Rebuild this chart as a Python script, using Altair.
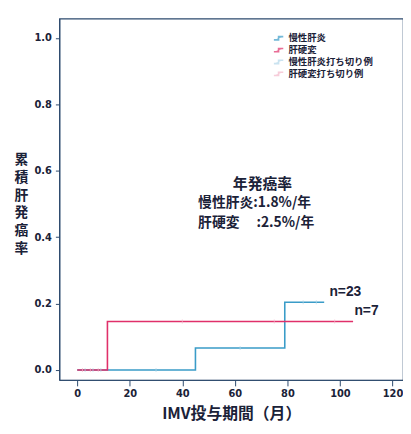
import altair as alt
import pandas as pd

# ---- data ----
hep_x = [0, 45, 79, 94]
hep_y = [0.0, 0.066, 0.204, 0.204]
cir_x = [0, 11.5, 105]
cir_y = [0.0, 0.146, 0.146]

hep_cens_x = [3, 6, 9, 30, 62, 86, 91]
hep_cens_y = [0.0, 0.0, 0.0, 0.0, 0.066, 0.204, 0.204]
cir_cens_x = [2, 5, 8, 40, 75, 98]
cir_cens_y = [0.0, 0.0, 0.0, 0.146, 0.146, 0.146]

series = ["慢性肝炎", "肝硬変", "慢性肝炎打ち切り例", "肝硬変打ち切り例"]
colors = ["#3a9cc8", "#e0306a", "#b5d8ea", "#f4b8cb"]

n_labels = ["n=23", "n=7"]
n_x = [96, 105.5]
n_y = [0.235, 0.176]

ann_title = ["年発癌率"]
ann_lines = ["慢性肝炎:1.8%/年", "肝硬変　 :2.5%/年"]

x_ticks = [0, 20, 40, 60, 80, 100, 120]
y_ticks = [0.0, 0.2, 0.4, 0.6, 0.8, 1.0]

# ---- tables ----
lines = pd.concat([
    pd.DataFrame({"x": hep_x, "y": hep_y, "s": series[0]}),
    pd.DataFrame({"x": cir_x, "y": cir_y, "s": series[1]}),
])
cens = pd.concat([
    pd.DataFrame({"x": hep_cens_x, "y": hep_cens_y, "s": series[2]}),
    pd.DataFrame({"x": cir_cens_x, "y": cir_cens_y, "s": series[3]}),
])
ndf = pd.DataFrame({"x": n_x, "y": n_y, "t": n_labels})
ann_t = pd.DataFrame({"x": [70.5], "y": [0.56], "t": ann_title})
ann_l = pd.DataFrame({"x": [46.0, 46.0], "y": [0.502, 0.443], "t": ann_lines})

FONT = "Noto Sans CJK JP"
INK = "#1b2238"
FRAME = "#2d4a6e"

xsc = alt.Scale(domain=[-6.8, 124], nice=False, zero=False)
ysc = alt.Scale(domain=[-0.03, 1.058], nice=False, zero=False)

color = alt.Color(
    "s:N",
    scale=alt.Scale(domain=series, range=colors),
    legend=alt.Legend(
        title=None,
        orient="none",
        legendX=216,
        legendY=14,
        symbolType="M-1,0.35H0V-0.35H1",
        symbolSize=90,
        symbolStrokeWidth=1.6,
        labelFont=FONT,
        labelFontSize=9.5,
        labelFontWeight="bold",
        labelColor=INK,
        rowPadding=1,
        labelOffset=4,
        padding=0,
    ),
)

xenc = alt.X(
    "x:Q", scale=xsc,
    axis=alt.Axis(
        values=x_ticks, format="d", title="IMV投与期間（月）",
        grid=False, domainColor=FRAME, tickColor=FRAME, tickSize=6,
        labelFont="DejaVu Sans", labelFontSize=10, labelFontWeight="bold",
        labelColor=INK, labelPadding=3,
        titleFont=FONT, titleFontSize=16, titleFontWeight="bold",
        titleColor=INK, titlePadding=7,
    ),
)
yenc = alt.Y(
    "y:Q", scale=ysc,
    axis=alt.Axis(
        values=y_ticks, format=".1f",
        title=["累", "積", "肝", "発", "癌", "率"],
        titleAngle=0, titleAlign="center", titleBaseline="top",
        titleX=-39, titleY=136, titleLineHeight=18,
        titleFont=FONT, titleFontSize=14, titleFontWeight="bold", titleColor=INK,
        grid=False, domainColor=FRAME, tickColor=FRAME, tickSize=4,
        labelFont="DejaVu Sans", labelFontSize=10, labelFontWeight="bold",
        labelColor=INK, labelPadding=4,
    ),
)

line_layer = alt.Chart(lines).mark_line(interpolate="step-after", strokeWidth=1.6).encode(
    x=xenc, y=yenc, color=color
)
cens_layer = alt.Chart(cens).mark_tick(size=4, thickness=1, orient="vertical").encode(
    x="x:Q", y="y:Q", color=color
)
n_layer = alt.Chart(ndf).mark_text(
    align="left", baseline="middle", font="Liberation Sans", fontSize=14, fontWeight="bold", color=INK
).encode(x="x:Q", y="y:Q", text="t:N")
ann_t_layer = alt.Chart(ann_t).mark_text(
    align="center", baseline="middle", font=FONT, fontSize=15, fontWeight="bold", color=INK
).encode(x="x:Q", y="y:Q", text="t:N")
ann_l_layer = alt.Chart(ann_l).mark_text(
    align="left", baseline="middle", font=FONT, fontSize=14, fontWeight="bold", color=INK
).encode(x="x:Q", y="y:Q", text="t:N")

chart = alt.layer(line_layer, cens_layer, n_layer, ann_t_layer, ann_l_layer).properties(
    width=348, height=366,
    autosize=alt.AutoSizeParams(type="none"),
    padding={"left": 52, "top": 8, "right": 0, "bottom": 44},
    background="white",
).configure_view(stroke=FRAME, strokeWidth=1.2)

chart.save("out.html", embed_options={"renderer": "svg", "actions": False})
